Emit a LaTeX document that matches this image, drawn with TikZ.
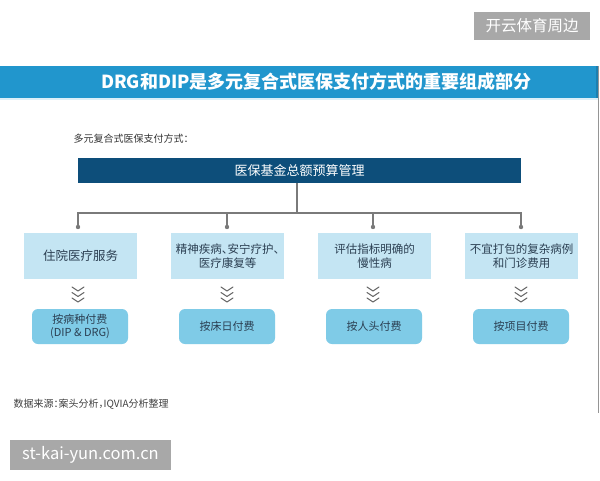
\documentclass[tikz,border=0pt]{standalone}
\usepackage{fontspec}
\newfontfamily\cjk{Noto Sans CJK SC}
\newcommand{\hdun}{\makebox[0.5em][l]{、}}
\newcommand{\hcolon}{\makebox[0.5em][l]{：}}
\newcommand{\hcomma}{\makebox[0.5em][l]{，}}
\definecolor{banner}{HTML}{2196CD}
\definecolor{bannerdk}{HTML}{1C7FAF}
\definecolor{darkbar}{HTML}{0D4E7A}
\definecolor{lightbox}{HTML}{C4E5F3}
\definecolor{midbox}{HTML}{7FCBE7}
\definecolor{boxtext}{HTML}{2B3F52}
\definecolor{connc}{HTML}{7A7A7A}
\definecolor{wmgray}{HTML}{A8A8A8}
\tikzset{
  wmbox/.style={fill=wmgray, text=white, inner sep=0pt, font=\cjk\fontsize{15.5}{17}\selectfont},
  topbar/.style={fill=darkbar, text=white, minimum width=443, minimum height=25, inner sep=0pt, font=\cjk\fontsize{13}{15}\selectfont},
  catbox/.style={fill=lightbox, text=boxtext, minimum width=113, minimum height=46, inner sep=0pt, align=center, font=\cjk\fontsize{11.5}{14}\selectfont},
  paybox/.style={fill=midbox, text=boxtext, minimum width=96, minimum height=35, inner sep=0pt, rounded corners=6, align=center, font=\cjk\fontsize{11}{13}\selectfont},
  conn/.style={draw=connc, line width=1.1},
  dotc/.style={fill=connc, draw=none},
  chev/.style={draw=connc!85!black, line width=1, line cap=round, line join=round},
}
\begin{document}
\begin{tikzpicture}[x=1pt,y=-1pt]
\useasboundingbox (0,0) rectangle (600,480);
\fill[white] (0,0) rectangle (600,480);
% watermarks
\node[wmbox, minimum width=116, minimum height=28] (wm1) at (532,26) {开云体育周边};
\node[wmbox, minimum width=161, minimum height=30, font=\cjk\fontsize{16.5}{18}\selectfont] (wm2) at (90.5,455) {st-kai-yun.com.cn};
% banner
\fill[banner] (0,66) rectangle (598,98);
\fill[bannerdk] (595.5,66) rectangle (598,98);
\fill[lightbox!60!white] (0,98) rectangle (598,100);
\node[text=white, font=\cjk\bfseries\fontsize{18}{20}\selectfont] (title) at (316.5,82) {DRG和DIP是多元复合式医保支付方式的重要组成部分};
\draw[draw=connc!80, line width=1.2] (598.8,66) -- (598.8,413);
% subtitle
\node[anchor=west, text=black!80, inner sep=0pt, font=\cjk\fontsize{10}{12}\selectfont] (sub) at (73.5,139) {多元复合式医保支付方式：};
% top bar
\node[topbar] (bar) at (299.5,170.5) {医保基金总额预算管理};
% connectors
\coordinate (hub) at (297,213);
\coordinate (t1) at (78,213);
\coordinate (t2) at (227,213);
\coordinate (t3) at (373,213);
\coordinate (t4) at (521,213);
\coordinate (e1) at (78,227);
\coordinate (e2) at (227,227);
\coordinate (e3) at (373,227);
\coordinate (e4) at (521,227);
\draw[conn] (bar.south -| hub) -- (hub);
\draw[conn] (e1) -- (t1) -- (t4) -- (e4);
\draw[conn] (t2) -- (e2);
\draw[conn] (t3) -- (e3);
\foreach \e in {e1,e2,e3,e4} \fill[dotc] (\e) circle (2.2);
% category boxes
\node[catbox, font=\cjk\fontsize{12.5}{14}\selectfont] (m1) at (80.5,256) {住院医疗服务};
\node[catbox] (m2) at (227.5,256) {精神疾病\hdun 安宁疗护\hdun\\医疗康复等};
\node[catbox] (m3) at (374.5,256) {评估指标明确的\\慢性病};
\node[catbox] (m4) at (521.5,256) {不宜打包的复杂病例\\和门诊费用};
% payment boxes
\node[paybox] (p1) at (80,326.5) {按病种付费\\(DIP \& DRG)};
\node[paybox] (p2) at (227,326.5) {按床日付费};
\node[paybox] (p3) at (374,326.5) {按人头付费};
\node[paybox] (p4) at (521,326.5) {按项目付费};
% chevrons
\foreach \x in {78,227,373,521}{
  \foreach \y in {287,292.5,298}{
    \draw[chev] (\x-6,\y) -- (\x,\y+4) -- (\x+6,\y);
  }
}
% source
\node[anchor=west, text=black!75, inner sep=0pt, font=\cjk\fontsize{10}{12}\selectfont] (src) at (13.5,404) {数据来源\hcolon 案头分析\hcomma IQVIA分析整理};
\end{tikzpicture}
\end{document}
